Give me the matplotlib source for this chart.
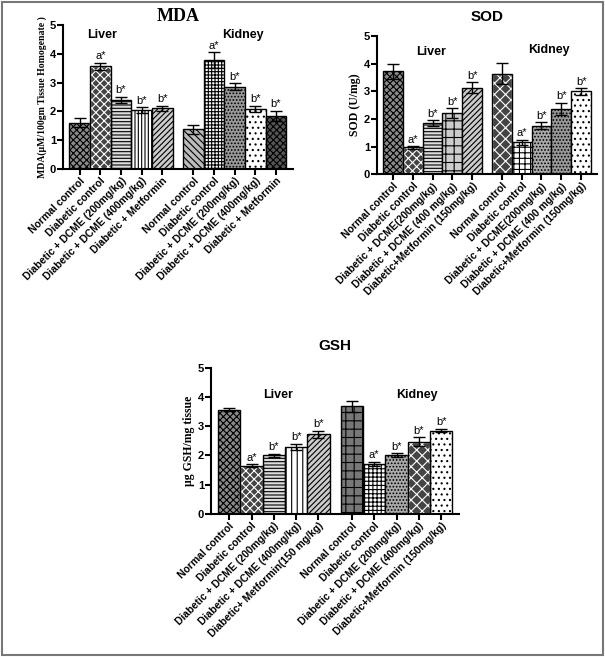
import matplotlib.pyplot as plt
from matplotlib.patches import Rectangle

plt.rcParams['font.family'] = ['Liberation Sans', 'DejaVu Sans']
plt.rcParams['hatch.linewidth'] = 0.8

# x tick labels
mda_labels = ['Normal control', 'Diabetic control', 'Diabetic + DCME (200mg/kg)',
              'Diabetic + DCME (400mg/kg)', 'Diabetic + Metformin',
              'Normal control', 'Diabetic control', 'Diabetic + DCME (200mg/kg)',
              'Diabetic + DCME (400mg/kg)', 'Diabetic + Metformin']
sod_labels = ['Normal control', 'Diabetic control', 'Diabetic + DCME(200mg/kg)',
              'Diabetic + DCME (400 mg/kg)', 'Diabetic+Metformin (150mg/kg)',
              'Normal control', 'Diabetic control', 'Diabetic + DCME(200mg/kg)',
              'Diabetic + DCME (400 mg/kg)', 'Diabetic+Metformin (150mg/kg)']
gsh_labels = ['Normal control', 'Diabetic control', 'Diabetic + DCME (200mg/kg)',
              'Diabetic + DCME (400mg/kg)', 'Diabetic+ Metformin(150 mg/kg)',
              'Normal control', 'Diabetic control', 'Diabetic + DCME (200mg/kg)',
              'Diabetic + DCME (400mg/kg)', 'Diabetic+Metformin (150mg/kg)']

# values (liver 5 then kidney 5)
mda_vals = [1.6, 3.57, 2.4, 2.05, 2.1, 1.37, 3.78, 2.85, 2.08, 1.85]
mda_err = [0.15, 0.12, 0.1, 0.1, 0.1, 0.17, 0.27, 0.12, 0.12, 0.17]
mda_sig = ['', 'a*', 'b*', 'b*', 'b*', '', 'a*', 'b*', 'b*', 'b*']

sod_vals = [3.72, 0.97, 1.85, 2.2, 3.13, 3.63, 1.15, 1.75, 2.37, 3.0]
sod_err = [0.28, 0.05, 0.1, 0.18, 0.2, 0.38, 0.1, 0.13, 0.22, 0.12]
sod_sig = ['', 'a*', 'b*', 'b*', 'b*', '', 'a*', 'b*', 'b*', 'b*']

gsh_vals = [3.57, 1.65, 2.0, 2.3, 2.72, 3.68, 1.72, 2.0, 2.47, 2.85]
gsh_err = [0.06, 0.05, 0.06, 0.1, 0.13, 0.18, 0.07, 0.07, 0.15, 0.06]
gsh_sig = ['', 'a*', 'b*', 'b*', 'b*', '', 'a*', 'b*', 'b*', 'b*']

xpos = [0, 1, 2, 3, 4, 5.5, 6.5, 7.5, 8.5, 9.5]

# (facecolor, hatch) per bar
mda_style = [('#8a8a8a', 'xxxxx'), ('#444444', 'xxxx'), ('#dddddd', '-----'), ('white', '|||||'), ('#cccccc', '//////'),
             ('#bbbbbb', '\\\\\\\\\\'), ('white', '+++++'), ('#999999', '.....'), ('white', '...'), ('#555555', 'xxxxx')]
sod_style = [('#8a8a8a', 'xxxxx'), ('#444444', 'xxxx'), ('#dddddd', '-----'), ('#cccccc', '++'), ('#cccccc', '//////'),
             ('#444444', 'xxx'), ('white', '+++'), ('#aaaaaa', '.....'), ('#999999', '.....'), ('white', '...')]
gsh_style = [('#8a8a8a', 'xxxxx'), ('#444444', 'xxxx'), ('#dddddd', '-----'), ('white', '|||'), ('#cccccc', '//////'),
             ('#777777', '++'), ('white', '++++'), ('#aaaaaa', '.....'), ('#444444', 'xxx'), ('white', '...')]


def panel(rect, vals, err, sig, style, labels, title, ylabel, title_font, title_pad, ylab_size,
          liver_xy, kidney_xy):
    ax = fig.add_axes(rect)
    bars = ax.bar(xpos, vals, width=1.0, yerr=err, capsize=4,
                  error_kw=dict(elinewidth=1, capthick=1, ecolor='black'),
                  edgecolor='black', linewidth=1)
    for b, (fc, h) in zip(bars, style):
        b.set_facecolor(fc)
        b.set_hatch(h)
        if fc == '#444444':
            # white hatch on dark face -> checker look, then redraw black outline
            b.set_edgecolor('white')
            ax.bar(b.get_x() + 0.5, b.get_height(), width=1.0, fill=False, edgecolor='black', linewidth=1)
    for x, v, e, s in zip(xpos, vals, err, sig):
        if s:
            ax.text(x, v + e + 0.05, s, ha='center', va='bottom', fontsize=8)
    ax.set_xlim(-0.81, 10.31)
    ax.set_ylim(0, 5)
    ax.set_yticks([0, 1, 2, 3, 4, 5])
    ax.set_xticks(xpos)
    ax.set_xticklabels(labels, rotation=45, ha='right', rotation_mode='anchor',
                       fontsize=7.5, fontweight='bold')
    for t in ax.get_yticklabels():
        t.set_fontweight('bold')
        t.set_fontsize(8)
    ax.spines['top'].set_visible(False)
    ax.spines['right'].set_visible(False)
    ax.spines['left'].set_linewidth(1.5)
    ax.spines['bottom'].set_linewidth(1.5)
    ax.tick_params(width=1.5, length=4, pad=1)
    ax.set_title(title, fontweight='bold', pad=title_pad, **title_font)
    ax.set_ylabel(ylabel, family='Liberation Serif', fontweight='bold', fontsize=ylab_size, labelpad=2)
    ax.text(liver_xy[0], liver_xy[1], 'Liver', ha='center', va='center', fontsize=9, fontweight='bold')
    ax.text(kidney_xy[0], kidney_xy[1], 'Kidney', ha='center', va='center', fontsize=9, fontweight='bold')
    return ax


fig = plt.figure(figsize=(6.05, 6.57), dpi=100)

panel([0.104, 0.743, 0.380, 0.219], mda_vals, mda_err, mda_sig, mda_style, mda_labels,
      'MDA', 'MDA(\u00b5M/100gm Tissue Homogenate )', dict(family='Liberation Serif', fontsize=13), 1, 7,
      (1.1, 4.65), (7.9, 4.65))
panel([0.623, 0.735, 0.364, 0.210], sod_vals, sod_err, sod_sig, sod_style, sod_labels,
      'SOD', 'SOD (U/mg)', dict(fontsize=11), 11, 8.5,
      (1.9, 4.42), (7.9, 4.5))
panel([0.349, 0.218, 0.410, 0.222], gsh_vals, gsh_err, gsh_sig, gsh_style, gsh_labels,
      'GSH', '\u00b5g GSH/mg tissue', dict(fontsize=11), 13, 8.5,
      (2.2, 4.07), (8.4, 4.07))

fig.patches.append(Rectangle((0.003, 0.003), 0.994, 0.994, transform=fig.transFigure,
                             fill=False, edgecolor='#777777', linewidth=1.5))

fig.savefig('out.png', dpi=100)
